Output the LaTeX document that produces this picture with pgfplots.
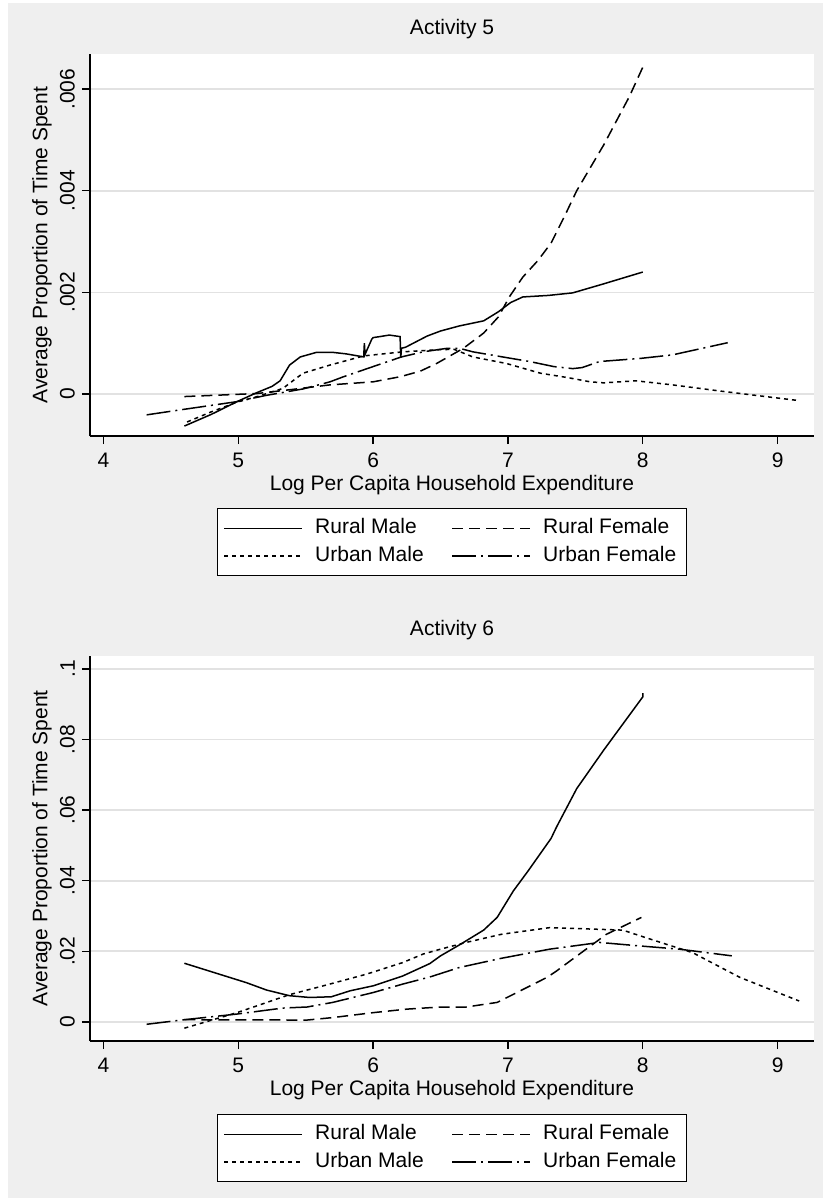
\documentclass[border=0pt]{standalone}
\usepackage{fontspec}
\setmainfont{Liberation Sans}
\usepackage{pgfplots}
\pgfplotsset{compat=1.18}
\definecolor{bggray}{RGB}{239,239,239}
\definecolor{gridgray}{RGB}{226,226,226}
\pgfplotsset{
 statastyle/.style={
  scale only axis, width=362pt,
  xmin=3.9, xmax=9.27,
  axis lines*=left,
  axis line style={line width=0.7pt, black},
  axis background/.style={fill=white},
  tick align=outside, major tick length=4pt,
  tick style={black, line width=0.7pt},
  xtick={4,5,6,7,8,9}, xticklabels={4,5,6,7,8,9},
  ymajorgrids, grid style={gridgray, line width=0.8pt},
  scaled y ticks=false, scaled x ticks=false,
  /pgf/number format/assume math mode=true,
  font=\fontsize{10.5}{12.5}\selectfont,
  yticklabel style={rotate=90, anchor=south},
  xticklabel style={yshift=-1pt},
  xlabel={Log Per Capita Household Expenditure},
  ylabel={Average Proportion of Time Spent},
  xlabel style={at={(axis description cs:0.5,-0.128)}, anchor=center},
  ylabel style={at={(axis description cs:-0.0663,0.5)}, anchor=center, rotate=0},
  title style={at={(axis description cs:0.5,1)}, anchor=base, yshift=4pt},
  legend columns=2,
  legend cell align=left,
  legend image code/.code={\draw[##1] (0pt,0pt) -- (39pt,0pt);},
  legend style={at={(axis description cs:0.5,-0.278)}, anchor=center,
    draw=black, line width=0.6pt, fill=white, inner xsep=3pt, inner ysep=3pt,
    row sep=0pt,
    nodes={inner sep=2pt, text height=7.6pt, text depth=2.2pt},
    /tikz/every odd column/.append style={column sep=4pt},
    /tikz/every even column/.append style={column sep=12pt}},
 },
 rm/.style={black, line width=0.75pt, solid},
 rf/.style={black, line width=0.75pt, dash pattern=on 5.5pt off 3pt},
 um/.style={black, line width=0.75pt, dash pattern=on 2pt off 2pt},
 uf/.style={black, line width=0.75pt, dash pattern=on 12pt off 2.5pt on 1pt off 2.5pt},
}
\begin{document}
\begin{tikzpicture}
\useasboundingbox (0,0) rectangle (411.5pt,-599.5pt);
\fill[white] (0,0) rectangle (411.5pt,-599.5pt);
\fill[bggray] (4pt,-1.5pt) rectangle (411.5pt,-599pt);
% ---------------- Activity 5 ----------------
\begin{axis}[statastyle, at={(45pt,-218pt)}, anchor=south west, height=191pt,
  ymin=-0.000826, ymax=0.00669,
  ytick={0,0.002,0.004,0.006}, yticklabels={0,.002,.004,.006},
  title={Activity 5}]
\addplot[rm] coordinates {(4.60,-0.00063)(4.80,-0.00040)(4.99,-0.00015)(5.14,0.00003)(5.25,0.00015)(5.31,0.00026)(5.38,0.00057)(5.46,0.00073)(5.58,0.00082)(5.70,0.00082)(5.80,0.00079)(5.93,0.00073)(5.935,0.00100)(5.94,0.00078)(5.99,0.00108)(6.00,0.00111)(6.05,0.00113)(6.12,0.00116)(6.20,0.00113)(6.205,0.00071)(6.21,0.00090)(6.24,0.00092)(6.32,0.00103)(6.40,0.00114)(6.50,0.00124)(6.64,0.00134)(6.82,0.00144)(6.93,0.00162)(7.02,0.00180)(7.11,0.00191)(7.30,0.00194)(7.48,0.00199)(7.70,0.00216)(8.00,0.00240)};
\addlegendentry{Rural Male}
\addplot[rf] coordinates {(4.60,-0.00005)(5.14,0.00001)(5.40,0.00009)(5.68,0.00018)(6.00,0.00024)(6.20,0.00034)(6.35,0.00045)(6.47,0.00060)(6.57,0.00075)(6.67,0.00090)(6.82,0.00120)(6.93,0.00152)(7.01,0.00191)(7.11,0.00230)(7.22,0.00262)(7.32,0.00297)(7.42,0.00350)(7.51,0.00400)(7.61,0.00445)(7.71,0.00490)(7.80,0.00535)(7.90,0.00585)(8.00,0.00643)};
\addlegendentry{Rural Female}
\addplot[um] coordinates {(4.62,-0.00055)(4.80,-0.00035)(4.99,-0.00016)(5.14,-0.00005)(5.33,0.00011)(5.48,0.00041)(5.68,0.00057)(5.93,0.00075)(6.22,0.00083)(6.47,0.00087)(6.60,0.00088)(6.74,0.00073)(6.99,0.00060)(7.24,0.00041)(7.45,0.00032)(7.61,0.00024)(7.71,0.00022)(7.95,0.00026)(8.22,0.00018)(8.60,0.00005)(9.16,-0.00013)};
\addlegendentry{Urban Male}
\addplot[uf] coordinates {(4.32,-0.00041)(4.60,-0.00030)(4.99,-0.00015)(5.20,-0.00003)(5.48,0.00010)(5.68,0.00024)(5.78,0.00034)(6.00,0.00054)(6.21,0.00073)(6.37,0.00083)(6.55,0.00090)(6.64,0.00090)(6.74,0.00083)(6.96,0.00073)(7.16,0.00064)(7.34,0.00054)(7.48,0.00050)(7.55,0.00052)(7.68,0.00064)(7.98,0.00070)(8.22,0.00077)(8.63,0.00101)};
\addlegendentry{Urban Female}
\end{axis}
% ---------------- Activity 6 ----------------
\begin{axis}[statastyle, at={(45pt,-520.5pt)}, anchor=south west, height=192.7pt,
  ymin=-0.00544, ymax=0.1038,
  ytick={0,0.02,0.04,0.06,0.08,0.1}, yticklabels={0,.02,.04,.06,.08,.1},
  title={Activity 6}]
\addplot[rm] coordinates {(4.60,0.0166)(5.06,0.0111)(5.21,0.0090)(5.38,0.0074)(5.53,0.0069)(5.69,0.0071)(5.83,0.0088)(6.00,0.0102)(6.22,0.0130)(6.42,0.0165)(6.50,0.0187)(6.64,0.0218)(6.82,0.0260)(6.92,0.0296)(7.04,0.0371)(7.15,0.0428)(7.32,0.0520)(7.36,0.0552)(7.51,0.0661)(7.71,0.0770)(8.00,0.0921)(8.00,0.0932)};
\addlegendentry{Rural Male}
\addplot[rf] coordinates {(4.60,0.0006)(5.51,0.0005)(5.70,0.0012)(6.00,0.0026)(6.25,0.0036)(6.50,0.0042)(6.69,0.0042)(6.92,0.0055)(7.04,0.0078)(7.29,0.0126)(7.36,0.0144)(7.53,0.0192)(7.73,0.0248)(7.99,0.0296)};
\addlegendentry{Rural Female}
\addplot[um] coordinates {(4.60,-0.0018)(4.99,0.0026)(5.38,0.0077)(5.63,0.0102)(5.95,0.0135)(6.22,0.0168)(6.37,0.0192)(6.50,0.0206)(6.69,0.0225)(6.95,0.0248)(7.31,0.0267)(7.61,0.0263)(7.85,0.0260)(8.10,0.0229)(8.37,0.0196)(8.72,0.0126)(9.16,0.0059)};
\addlegendentry{Urban Male}
\addplot[uf] coordinates {(4.32,-0.0007)(4.60,0.0006)(4.99,0.0022)(5.33,0.0039)(5.51,0.0042)(5.70,0.0055)(6.00,0.0083)(6.22,0.0107)(6.42,0.0127)(6.64,0.0154)(6.95,0.0180)(7.31,0.0206)(7.68,0.0225)(7.98,0.0215)(8.27,0.0206)(8.66,0.0187)};
\addlegendentry{Urban Female}
\end{axis}
\end{tikzpicture}
\end{document}
